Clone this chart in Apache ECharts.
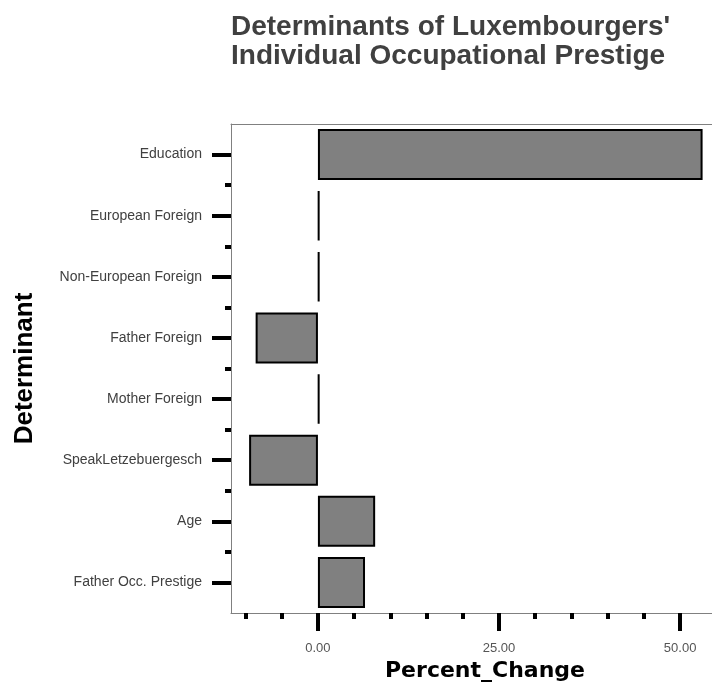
<!DOCTYPE html>
<html>
<head>
<meta charset="utf-8">
<script src="https://cdn.jsdelivr.net/npm/echarts@6/dist/echarts.min.js"></script>
<style>
  html, body { margin: 0; padding: 0; background: #fff; }
  #main { width: 712px; height: 695px; }
</style>
</head>
<body>
<div id="main"></div>
<script>
// 数据
let determinants = ['Education', 'European Foreign', 'Non-European Foreign', 'Father Foreign',
  'Mother Foreign', 'SpeakLetzebuergesch', 'Age', 'Father Occ. Prestige'];
let percentChange = [53.1, 0.2, 0.2, -8.6, 0.2, -9.5, 7.9, 6.5];
let minorTicks = [-10, -5, 0, 5, 10, 15, 20, 25, 30, 35, 40, 45, 50];
let majorTicks = [0, 25, 50];
let boundaryTicks = [1, 2, 3, 4, 5, 6, 7];

let myChart = echarts.init(document.getElementById('main'));

let labelFont = 'Liberation Sans, Arial, sans-serif';
let frameLine = { show: true, onZero: false, lineStyle: { color: '#808080', width: 1 } };
let xMin = -12, xMax = 54.4;

let option = {
  backgroundColor: '#fff',
  animation: false,
  title: {
    text: "Determinants of Luxembourgers'\nIndividual Occupational Prestige",
    left: 231,
    top: 13,
    padding: 0,
    textStyle: {
      fontFamily: labelFont,
      fontWeight: 'bold',
      fontSize: 28,
      lineHeight: 29,
      color: '#404040'
    }
  },
  grid: {
    left: 231,
    top: 124,
    width: 481,
    height: 489,
    show: false,
    containLabel: false
  },
  xAxis: [
    {
      type: 'value',
      position: 'bottom',
      min: xMin,
      max: xMax,
      axisLine: frameLine,
      splitLine: { show: false },
      axisTick: {
        show: true,
        length: 6,
        customValues: minorTicks,
        lineStyle: { color: '#000', width: 4 }
      },
      axisLabel: { show: false }
    },
    {
      type: 'value',
      position: 'bottom',
      min: xMin,
      max: xMax,
      axisLine: { show: false, onZero: false },
      splitLine: { show: false },
      axisTick: {
        show: true,
        length: 18,
        customValues: majorTicks,
        lineStyle: { color: '#000', width: 4 }
      },
      axisLabel: {
        customValues: majorTicks,
        margin: 29,
        fontFamily: labelFont,
        fontSize: 13,
        color: '#555',
        formatter: function (v) { return v.toFixed(2); }
      },
      name: 'Percent_Change',
      nameLocation: 'middle',
      nameGap: 45,
      nameTextStyle: {
        fontFamily: 'DejaVu Sans, sans-serif',
        fontWeight: 'bold',
        fontSize: 22,
        color: '#000',
        padding: [0, 0, 0, 27]
      }
    },
    {
      // 上边框
      type: 'value',
      position: 'top',
      min: xMin,
      max: xMax,
      axisLine: frameLine,
      splitLine: { show: false },
      axisTick: { show: false },
      axisLabel: { show: false }
    }
  ],
  yAxis: [
    {
      type: 'category',
      data: determinants,
      inverse: true,
      position: 'left',
      axisLine: frameLine,
      axisTick: {
        show: true,
        alignWithLabel: true,
        length: 19,
        lineStyle: { color: '#000', width: 4 }
      },
      axisLabel: {
        margin: 29,
        fontFamily: labelFont,
        fontSize: 14,
        color: '#404040'
      },
      name: 'Determinant',
      nameLocation: 'middle',
      nameGap: 193,
      nameTextStyle: {
        fontFamily: labelFont,
        fontWeight: 'bold',
        fontSize: 26,
        color: '#000'
      }
    },
    {
      type: 'value',
      position: 'left',
      min: 0,
      max: 8,
      axisLine: { show: false, onZero: false },
      splitLine: { show: false },
      axisTick: {
        show: true,
        length: 6,
        customValues: boundaryTicks,
        lineStyle: { color: '#000', width: 4 }
      },
      axisLabel: { show: false }
    }
  ],
  series: [
    {
      type: 'bar',
      xAxisIndex: 0,
      yAxisIndex: 0,
      data: percentChange,
      barWidth: 51,
      itemStyle: {
        color: '#808080',
        borderColor: '#000',
        borderWidth: 2
      }
    }
  ]
};

myChart.setOption(option, true);
</script>
</body>
</html>
